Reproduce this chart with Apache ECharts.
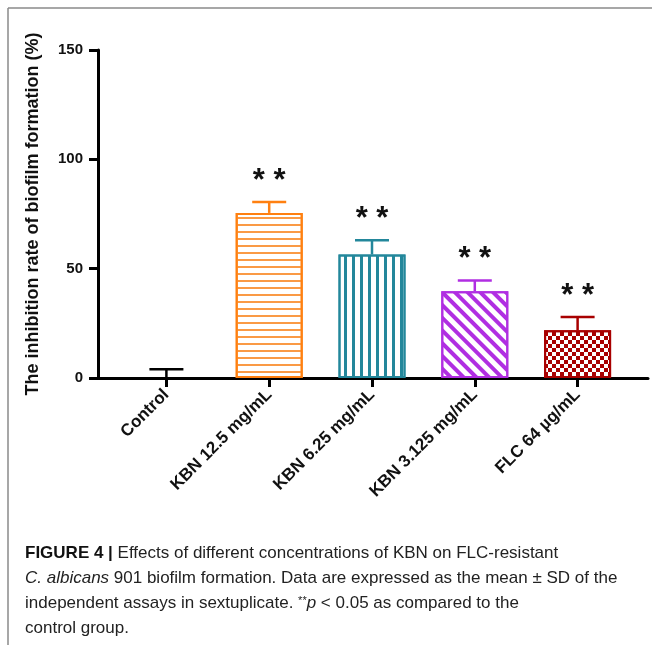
<!DOCTYPE html>
<html><head><meta charset="utf-8">
<script src="https://cdn.jsdelivr.net/npm/echarts@6/dist/echarts.min.js"></script>
<style>html,body{margin:0;padding:0;background:#fff}#c{width:652px;height:645px}</style>
</head><body><div id="c"></div>
<script>
const categories = ['Control', 'KBN 12.5 mg/mL', 'KBN 6.25 mg/mL', 'KBN 3.125 mg/mL', 'FLC 64 µg/mL'];
const meanValues = [0, 75.5, 56.5, 39.7, 21.8];
const sdValues = [4.0, 5.0, 6.5, 4.9, 6.1];
const significance = ['', '**', '**', '**', '**'];
const yTicks = [0, 50, 100, 150];
const yTitle = 'The inhibition rate of biofilm formation (%)';
const captionLines = [
  '{b|FIGURE 4 |} Effects of different concentrations of KBN on FLC-resistant',
  '{i|C. albicans} 901 biofilm formation. Data are expressed as the mean ± SD of the',
  'independent assays in sextuplicate. {s|**}{i|p} < 0.05 as compared to the',
  'control group.'
];

const colors = ['#000000', '#FF8010', '#23879B', '#B02EE2', '#A80000'];
const decals = [
  null,
  {symbol: 'rect', symbolSize: 1, dashArrayX: [1, 0], dashArrayY: [2, 5], color: '#FA9A45'},
  {symbol: 'rect', symbolSize: 1, dashArrayX: [3, 5], dashArrayY: [1, 0], color: '#23879B'},
  {symbol: 'rect', symbolSize: 1, dashArrayX: [1, 0], dashArrayY: [4, 5], rotation: Math.PI / 4, color: '#B02EE2'},
  {symbol: 'rect', symbolSize: 1, dashArrayX: [[4, 4], [0, 4, 4, 0]], dashArrayY: [4, 0], color: '#A80000'}
];

const chart = echarts.init(document.getElementById('c'), null, {renderer: 'canvas'});
const yMin = yTicks[0], yMax = yTicks[yTicks.length - 1], yInt = yTicks[1] - yTicks[0];
const F = 'Arial, "Liberation Sans", Helvetica, sans-serif';
const CF = '"Liberation Sans Narrow", "Arial Narrow", "Liberation Sans", sans-serif';

const option = {
  backgroundColor: '#fff',
  animation: false,
  grid: [
    {left: 98, top: 50, width: 550, height: 328},
    {left: 115, top: 50, width: 514, height: 328}
  ],
  xAxis: [
    {gridIndex: 0, type: 'value', min: 0, max: 1,
     axisLine: {show: true, lineStyle: {color: '#000', width: 3}},
     axisTick: {show: false}, axisLabel: {show: false}, splitLine: {show: false}},
    {gridIndex: 1, type: 'category', data: categories,
     axisLine: {show: false},
     axisTick: {show: true, alignWithLabel: true, length: 9, lineStyle: {color: '#000', width: 3}},
     axisLabel: {rotate: 45, margin: 14, color: '#111', fontSize: 17, fontWeight: 'bold', fontFamily: F, interval: 0}}
  ],
  yAxis: [
    {gridIndex: 0, type: 'value', min: yMin, max: yMax, interval: yInt,
     name: yTitle, nameLocation: 'middle', nameGap: 56, nameRotate: 90,
     nameTextStyle: {color: '#111', fontSize: 18, fontWeight: 'bold', fontFamily: F},
     axisLine: {show: true, lineStyle: {color: '#000', width: 3}},
     axisTick: {show: true, length: 9, lineStyle: {color: '#000', width: 3}},
     axisLabel: {margin: 15, color: '#111', fontSize: 15, fontWeight: 'bold', fontFamily: F},
     splitLine: {show: false}},
    {gridIndex: 1, type: 'value', min: yMin, max: yMax, interval: yInt, show: false}
  ],
  series: [
    {
      type: 'bar', xAxisIndex: 1, yAxisIndex: 1, barWidth: 67,
      data: meanValues.map((v, i) => ({
        value: v,
        itemStyle: {color: '#fff', borderColor: colors[i], borderWidth: i === 0 ? 0 : 2, decal: decals[i] || undefined}
      })),
      z: 2
    },
    {
      type: 'custom', xAxisIndex: 1, yAxisIndex: 1, z: 3,
      data: meanValues.map((v, i) => [i, v, sdValues[i]]),
      renderItem: function (params, api) {
        const i = api.value(0);
        const m = api.value(1), s = api.value(2);
        const p0 = api.coord([i, m]);
        const p1 = api.coord([i, m + s]);
        const c = colors[i];
        const half = 17;
        const children = [
          {type: 'line', shape: {x1: p0[0], y1: p0[1], x2: p1[0], y2: p1[1]}, style: {stroke: c, lineWidth: 2.5}},
          {type: 'line', shape: {x1: p1[0] - half, y1: p1[1], x2: p1[0] + half, y2: p1[1]}, style: {stroke: c, lineWidth: 2.5}}
        ];
        if (significance[i]) {
          children.push({type: 'text', x: p1[0], y: p1[1] - 21,
            style: {text: significance[i].split('').join(' '), fill: '#111', font: 'bold 31px ' + F, align: 'center', verticalAlign: 'middle'}});
        }
        return {type: 'group', children: children};
      }
    }
  ],
  graphic: [
    {type: 'line', shape: {x1: 8, y1: 8, x2: 652, y2: 8}, style: {stroke: '#8a8a8a', lineWidth: 1.5}, silent: true},
    {type: 'line', shape: {x1: 8, y1: 8, x2: 8, y2: 645}, style: {stroke: '#8a8a8a', lineWidth: 1.5}, silent: true}
  ].concat(captionLines.map((t, k) => ({
    type: 'text', left: 25, top: 545 + k * 25, silent: true,
    style: {
      text: t, fill: '#222', font: '17px ' + CF,
      rich: {
        b: {fontWeight: 'bold', fontSize: 17, fontFamily: CF, fill: '#111'},
        i: {fontStyle: 'italic', fontSize: 17, fontFamily: CF, fill: '#222'},
        s: {fontSize: 11, fontFamily: CF, fill: '#222', verticalAlign: 'top', padding: [0, 0, 6, 0]}
      }
    }
  })))
};
chart.setOption(option);
</script>
</body></html>
